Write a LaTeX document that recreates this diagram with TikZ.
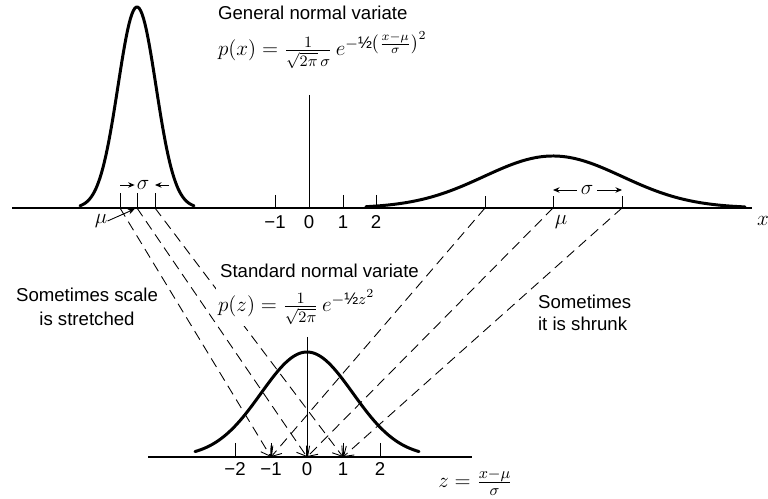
\documentclass[tikz,border=0pt]{standalone}
\usepackage{amsmath}
\usepackage{fontspec}
\setmainfont{Liberation Sans}
\usetikzlibrary{arrows.meta}

\newcommand{\expo}[1]{\mbox{\fontsize{9.5}{11}\selectfont$#1$}}

\begin{document}
\begin{tikzpicture}[
    x=0.02cm, y=-0.02cm,
    font=\fontsize{10.6}{12.5}\selectfont,
    every node/.style={inner sep=1pt},
    axisline/.style={line width=0.8pt},
    curveline/.style={line width=1.7pt, line cap=round},
    tickline/.style={line width=0.5pt},
    mapline/.style={line width=0.5pt, dash pattern=on 2mm off 1.2mm,
                    -{Straight Barb[length=1.8mm,width=2.4mm]}},
    sigarrow/.style={line width=0.5pt, -{Stealth[length=1.3mm,width=1.1mm]}},
    tlabel/.style={fill=white, inner sep=1pt},
    mathlabel/.style={font=\fontsize{13}{15}\selectfont},
    numlabel/.style={inner sep=0pt},
]
\useasboundingbox (0,0) rectangle (768,499);

% ============ key points on both axes ============
\coordinate (lm) at (120,208);
\coordinate (l0) at (137,208);
\coordinate (lp) at (155,208);
\coordinate (rm) at (485,208);
\coordinate (r0) at (553,208);
\coordinate (rp) at (622,208);
\coordinate (zm) at (271,457);
\coordinate (z0) at (307,457);
\coordinate (zp) at (343,457);

% ============ TOP: general normal variate ============
\draw[axisline] (12,208) -- (752,208);
\node[numlabel, mathlabel] (xlabel) at (763,221) {$x$};

% unit ticks
\draw[tickline] (309,95) -- (309,208);
\foreach \px/\lab in {275/−1, 309/0, 343/1, 376/2} {
    \draw[tickline] (\px,195) -- (\px,208);
    \node[numlabel] (top\px) at (\px,222) {\lab};
}

% narrow curve (scale stretched)
\draw[curveline] plot[domain=-57:57, samples=80]
    ({137+\x},{208-201*exp(-0.5*(\x/19)^2)});
\foreach \pt in {lm, l0, lp} {
    \draw[tickline] (\pt) -- ++(0,-15);
}
\node[numlabel, mathlabel] (sigL) at (143,185) {$\sigma$};
\draw[sigarrow, shorten >=1pt] (lm |- sigL) -- (sigL.west);
\draw[sigarrow] ([xshift=8pt]lp |- sigL) -- (lp |- sigL);
\node[numlabel, mathlabel] (muL) at (101,221) {$\mu$};
\draw[sigarrow, shorten >=1.5pt] (muL.east) -- (l0);

% wide curve (scale shrunk)
\draw[curveline] plot[domain=-187:192, samples=120]
    ({553+\x},{208-52*exp(-0.5*(\x/69)^2)});
\foreach \pt in {rm, r0, rp} {
    \draw[tickline] (\pt) -- ++(0,-12);
}
\node[numlabel, mathlabel] (sigR) at (587,190) {$\sigma$};
\draw[sigarrow, shorten <=2pt] (sigR.west) -- (r0 |- sigR);
\draw[sigarrow, shorten <=2pt] (sigR.east) -- (rp |- sigR);
\node[numlabel, mathlabel] (muR) at (561,222) {$\mu$};

% ============ BOTTOM: standard normal variate ============
\draw[axisline] (148,457) -- (472,457);
\draw[curveline] plot[domain=-112:112, samples=80]
    ({307+\x},{457-105*exp(-0.5*(\x/46)^2)});
\draw[tickline] (307,337) -- (z0);
\foreach \px/\lab in {235/−2, 271/−1, 307/0, 343/1, 380/2} {
    \draw[tickline] (\px,443) -- (\px,457);
    \node[numlabel] (bot\px) at (\px,469) {\lab};
}

% ============ mapping lines ============
\draw[mapline] (lm) -- (zm);
\draw[mapline] (l0) -- (z0);
\draw[mapline] (lp) -- (zp);
\draw[mapline] (rm) -- (zm);
\draw[mapline] (r0) -- (z0);
\draw[mapline] (rp) -- (zp);

% ============ labels ============
\node[anchor=base west] (genlabel) at (216,20) {General normal variate};
\node[mathlabel, anchor=base west] (genformula) at (216,56)
    {$p(x) = \frac{1}{\sqrt{2\pi}\,\sigma}\, e^{\expo{-\text{½}\bigl(\frac{x-\mu}{\sigma}\bigr)^{2}}}$};
\node[tlabel, mathlabel, anchor=base west] (stdformula) at (216,312)
    {$p(z) = \frac{1}{\sqrt{2\pi}}\, e^{\expo{-\text{½}z^{2}}}$};
\node[tlabel, anchor=base west] (stdlabel) at (218,278) {Standard normal variate};
\node[tlabel, align=center, font=\fontsize{10.6}{14}\selectfont]
    (stretchlabel) at (87,307) {Sometimes scale\\is stretched};
\node[tlabel, align=left, anchor=west] (shrinklabel) at (536,313) {Sometimes\\it is shrunk};
\node[numlabel, mathlabel, anchor=west] (zlabel) at (438,482) {$z = \frac{x-\mu}{\sigma}$};

\end{tikzpicture}
\end{document}
